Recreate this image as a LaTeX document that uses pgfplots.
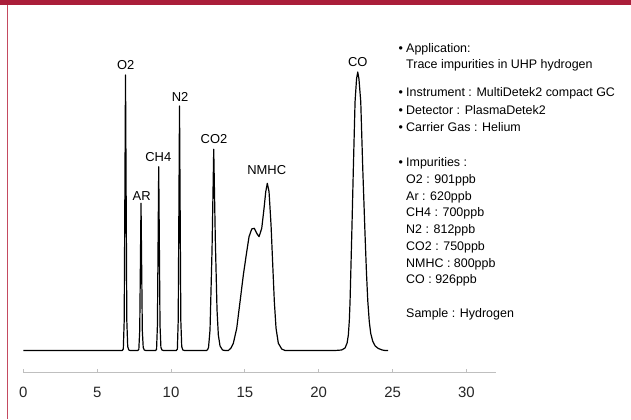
\documentclass[border=0pt]{standalone}
\usepackage{pgfplots}
\pgfplotsset{compat=1.18}
\usepackage{fontspec}
\setmainfont{Liberation Sans}
\definecolor{barred}{RGB}{170,30,58}
\definecolor{edgered}{RGB}{196,74,96}
\definecolor{axgray}{RGB}{191,191,191}
\begin{document}
\begin{tikzpicture}[x=1bp,y=1bp]
\fill[white] (0,0) rectangle (631,419);
\path[use as bounding box] (0,0) rectangle (631,419);
\fill[barred] (0,414) rectangle (631,419);
\draw[edgered, line width=1.6bp] (7.5,0) -- (7.5,414);
\begin{axis}[
  at={(23.3bp,46.3bp)}, anchor=south west,
  scale only axis, width=472.7bp, height=352.7bp,
  xmin=0, xmax=32, ymin=-22.2, ymax=330.5,
  axis x line*=bottom, axis y line=none,
  x axis line style={draw=axgray, line width=0.8bp},
  xtick={0,5,10,15,20,25,30},
  major tick length=4bp, tick align=inside,
  xtick style={draw=axgray, line width=0.8bp},
  /pgf/number format/assume math mode=true,
  xticklabel style={font=\fontsize{15}{18}\selectfont, anchor=center, yshift=-19.3bp, text=black!85},
  clip=false,
]
\addplot[black, line width=1.2bp, line join=round, mark=none] coordinates {
(0,0)
(6.70,0) (6.77,1.5) (6.831,30) (6.919,275.5) (7.007,30) (7.068,4) (7.14,0.5) (7.25,0)
(7.75,0) (7.82,1) (7.881,20) (7.969,147.2) (8.057,20) (8.118,3) (8.19,0.5) (8.30,0)
(8.95,0) (9.02,1) (9.079,25) (9.167,183.8) (9.255,25) (9.316,3) (9.39,0.5) (9.50,0)
(10.36,0) (10.43,1.5) (10.487,30) (10.575,244.5) (10.663,30) (10.724,4) (10.80,0.5) (10.92,0)
(12.40,0) (12.471,0.8) (12.539,3) (12.640,20.5) (12.776,100.5) (12.891,201.2) (12.999,110.5) (13.114,40.5) (13.203,15.5) (13.318,4.5) (13.487,0.5) (13.656,0)
(13.880,0) (14.06,2.5) (14.218,7.2) (14.448,22.2) (14.672,48.8) (14.895,75.5) (15.125,98.8) (15.281,113.8) (15.464,121.5) (15.640,122.2) (15.802,117.2) (15.958,113.8) (16.141,122.2) (16.297,142.2) (16.412,158.8) (16.520,167.2) (16.635,158.8) (16.771,125.5) (16.886,85.5) (16.994,48.8) (17.109,22.2) (17.265,7.2) (17.495,1.5) (17.718,0)
(21.104,0) (21.55,0.5) (21.781,2.5) (21.92,7.5) (22.004,15.5) (22.07,30) (22.119,48.8) (22.235,115.5) (22.343,182.2) (22.458,248.8) (22.559,271.5) (22.640,278.5) (22.722,271.5) (22.844,248.8) (22.979,182.2) (23.135,115.5) (23.23,78) (23.318,50) (23.42,29) (23.52,17) (23.65,9.5) (23.82,4.5) (24.035,2) (24.30,0.5) (24.489,0) (24.692,0)
};
\begin{scope}[every node/.style={font=\fontsize{13}{15}\selectfont, inner sep=0pt}]
\node at (axis cs:6.930,285.5) {O2};
\node at (axis cs:8.016,154.8) {AR};
\node at (axis cs:9.140,193.2) {CH4};
\node at (axis cs:10.61,253.8) {N2};
\node at (axis cs:12.91,211.5) {CO2};
\node at (axis cs:16.48,180.5) {NMHC};
\node at (axis cs:22.64,288.5) {CO};
\end{scope}
\end{axis}
\begin{scope}[every node/.style={font=\fontsize{12.5}{15}\selectfont, inner sep=0pt, anchor=base west}]
\node at (398.5,366.7) {•};
\node at (406,366.7) {Application:};
\node at (406,350.7) {Trace impurities in UHP hydrogen};
\node at (398.5,322.2) {•};
\node at (406,322.2) {Instrument : MultiDetek2 compact GC};
\node at (398.5,304.7) {•};
\node at (406,304.7) {Detector : PlasmaDetek2};
\node at (398.5,287.7) {•};
\node at (406,287.7) {Carrier Gas : Helium};
\node at (398.5,252.7) {•};
\node at (406,252.7) {Impurities :};
\node at (406,235.7) {O2 : 901ppb};
\node at (406,218.7) {Ar : 620ppb};
\node at (406,202.2) {CH4 : 700ppb};
\node at (406,185.2) {N2 : 812ppb};
\node at (406,168.7) {CO2 : 750ppb};
\node at (406,151.7) {NMHC : 800ppb};
\node at (406,135.2) {CO : 926ppb};
\node at (406,101.2) {Sample : Hydrogen};
\end{scope}
\end{tikzpicture}
\end{document}
